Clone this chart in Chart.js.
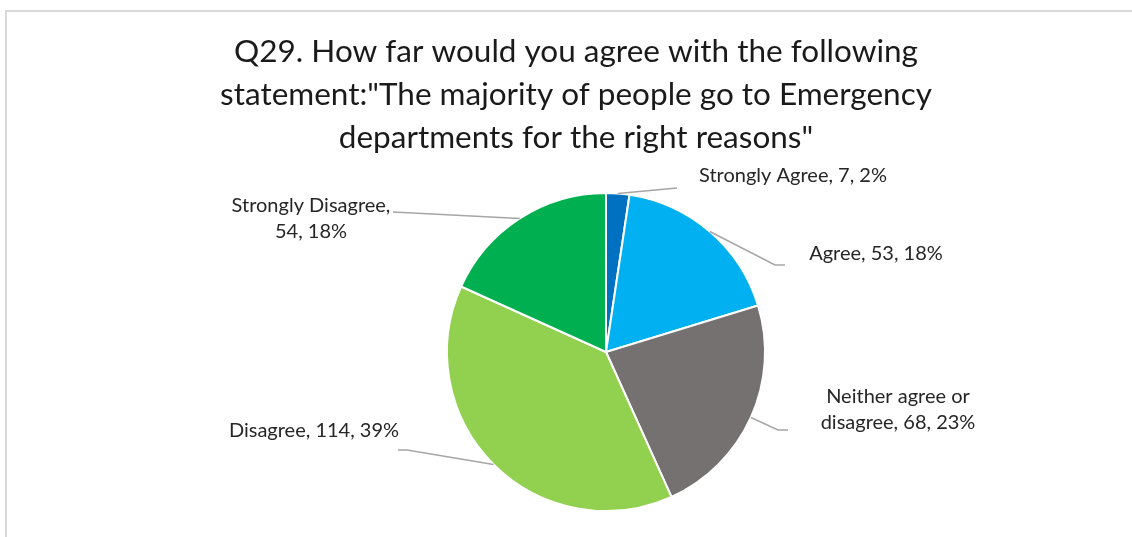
<!DOCTYPE html>
<html>
<head>
<meta charset="utf-8">
<script src="https://cdn.jsdelivr.net/npm/chart.js@4"></script>
<style>
  html, body { margin: 0; padding: 0; background: #fff; overflow: hidden; }
  canvas { display: block; }
</style>
</head>
<body>
<canvas id="q29Chart" width="1132" height="537"></canvas>
<script>
// Q29 answers
const categories = ["Strongly Agree", "Agree", "Neither agree or disagree", "Disagree", "Strongly Disagree"];
const responses = [7, 53, 68, 114, 54];
const sliceColors = ["#0070C0", "#00B0F0", "#767171", "#92D050", "#00B050"];
const titleLines = [
  "Q29. How far would you agree with the following",
  "statement:\"The majority of people go to Emergency",
  "departments for the right reasons\""
];

const total = responses.reduce((a, b) => a + b, 0);
const FONT = "Lato, 'Open Sans', sans-serif";

// label placement: centre x / first baseline, wrap width, leader bend points (label side first)
const labelSpots = [
  { x: 793, y: 182, wrap: 999, bend: [[677, 188]] },
  { x: 876, y: 260, wrap: 999, bend: [[785, 265], [775, 265]] },
  { x: 898, y: 403, wrap: 175, bend: [[788, 430], [778, 430]] },
  { x: 314, y: 437, wrap: 999, bend: [[398, 450], [407, 450]] },
  { x: 311, y: 212, wrap: 175, bend: [[393, 212]] }
];

function wrapText(ctx, text, maxWidth) {
  const words = text.split(" ");
  const lines = [];
  let line = "";
  words.forEach(w => {
    const test = line ? line + " " + w : w;
    if (line && ctx.measureText(test).width > maxWidth) {
      lines.push(line);
      line = w;
    } else {
      line = test;
    }
  });
  lines.push(line);
  return lines;
}

const frameAndLabels = {
  id: "frameAndLabels",
  beforeDraw(chart) {
    const ctx = chart.ctx;
    ctx.save();
    ctx.strokeStyle = "#d9d9d9";
    ctx.lineWidth = 2;
    ctx.beginPath();
    ctx.moveTo(6, chart.height + 5);
    ctx.lineTo(6, 11);
    ctx.lineTo(chart.width + 5, 11);
    ctx.stroke();

    // title
    ctx.fillStyle = "#1a1a1a";
    ctx.font = "31.5px " + FONT;
    ctx.textAlign = "center";
    ctx.textBaseline = "alphabetic";
    titleLines.forEach((t, i) => ctx.fillText(t, 576, 62 + i * 43));
    ctx.restore();
  },
  afterDraw(chart) {
    const ctx = chart.ctx;
    const meta = chart.getDatasetMeta(0);
    ctx.save();
    ctx.font = "20px " + FONT;
    ctx.textAlign = "center";
    ctx.textBaseline = "alphabetic";
    meta.data.forEach((arc, i) => {
      const p = arc.getProps(["x", "y", "startAngle", "endAngle", "outerRadius"]);
      const mid = (p.startAngle + p.endAngle) / 2;
      const ax = p.x + Math.cos(mid) * p.outerRadius;
      const ay = p.y + Math.sin(mid) * p.outerRadius;
      const spot = labelSpots[i];

      ctx.strokeStyle = "#a6a6a6";
      ctx.lineWidth = 1.5;
      ctx.beginPath();
      ctx.moveTo(spot.bend[0][0], spot.bend[0][1]);
      spot.bend.slice(1).forEach(pt => ctx.lineTo(pt[0], pt[1]));
      ctx.lineTo(ax, ay);
      ctx.stroke();

      const pct = Math.round(responses[i] / total * 100);
      const text = categories[i] + ", " + responses[i] + ", " + pct + "%";
      ctx.fillStyle = "#262626";
      wrapText(ctx, text, spot.wrap).forEach((line, j) => {
        ctx.fillText(line, spot.x, spot.y + j * 26);
      });
    });
    ctx.restore();
  }
};

new Chart(document.getElementById("q29Chart").getContext("2d"), {
  type: "pie",
  data: {
    labels: categories,
    datasets: [
      {
        data: responses,
        backgroundColor: sliceColors,
        borderColor: "#ffffff",
        borderWidth: 2
      }
    ]
  },
  options: {
    responsive: false,
    animation: false,
    layout: {
      padding: { top: 192, bottom: 25, left: 446, right: 366 }
    },
    plugins: {
      legend: { display: false },
      title: { display: false },
      tooltip: { enabled: false }
    }
  },
  plugins: [frameAndLabels]
});
</script>
</body>
</html>
